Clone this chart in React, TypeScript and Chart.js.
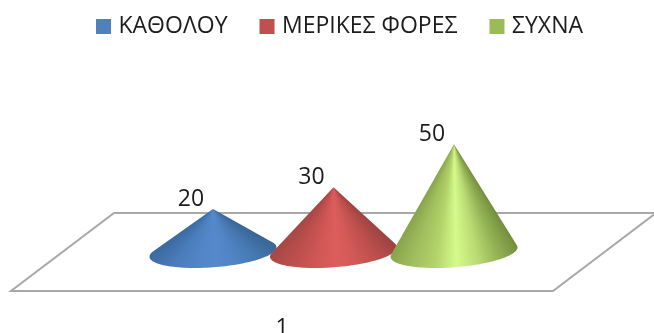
import React, { useEffect, useRef } from "react";
import { Chart, registerables } from "chart.js";

Chart.register(...registerables);

const categories = ["1"];
const seriesNames = ["ΚΑΘΟΛΟΥ", "ΜΕΡΙΚΕΣ ΦΟΡΕΣ", "ΣΥΧΝΑ"];
const kathólou = [20];
const merikes = [30];
const sychna = [50];
const seriesColors = ["#4f81bd", "#c0504d", "#9bbb59"];
// Shading across each cone, from its right silhouette round to its left one.
const coneShades = [
  ["#3a6594", "#4678b2", "#5084c4", "#5589cd", "#5285c6", "#4a7cba", "#3b699f"],
  ["#9b4341", "#bb4e4c", "#d05856", "#dd5e5c", "#d05755", "#bd4f4d", "#a44846"],
  ["#748d3e", "#93b254", "#bbdb73", "#d6fa8b", "#b2d26a", "#a0be5d", "#88a34c"],
];

const FONT = '"Open Sans", sans-serif';
const INK = "#1c1c1c";
const FLOOR = "#a8a8a8";
// The floor recedes by this vector; the cones stand half way along it.
const DEPTH_X = 103;
const DEPTH_Y = -78;
// Elliptical foot of a cone, relative to half the bar width and a fixed depth radius.
const FOOT_SKEW = 0.29;
const FOOT_HALF_HEIGHT = 16;
const LABEL_DX = -22;
const LABEL_DY = -9.5;
const LEGEND_SHIFT_X = 14.5;
const LEGEND_SHIFT_Y = -21;
const LEFT_MARGIN = 11;
const RIGHT_MARGIN = 101;

function drawCone(ctx: CanvasRenderingContext2D, cx: number, baseY: number, apexY: number, halfW: number, shades: string[]) {
  const B = -FOOT_SKEW * halfW;
  const A = Math.sqrt(halfW * halfW - B * B);
  const D = FOOT_HALF_HEIGHT;
  const at = (t: number) => [cx + A * Math.cos(t) + B * Math.sin(t), baseY + D * Math.sin(t)];
  // Tangent points of the apex on the foot, solved on the unit circle.
  const v = (apexY - baseY) / D;
  const u = -(B * v) / A;
  const phi = Math.atan2(v, u);
  const spread = Math.acos(1 / Math.hypot(u, v));
  const tRight = phi + spread;
  const tLeft = phi - spread + 2 * Math.PI;

  ctx.beginPath();
  ctx.moveTo(cx, apexY);
  const steps = 80;
  for (let i = 0; i <= steps; i++) {
    const [x, y] = at(tRight + ((tLeft - tRight) * i) / steps);
    ctx.lineTo(x, y);
  }
  ctx.closePath();

  const [rx, ry] = at(tRight);
  const [lx, ly] = at(tLeft);
  const turn = (x: number, y: number) => {
    const a = Math.atan2(y - apexY, x - cx) + Math.PI / 2;
    return ((a % (2 * Math.PI)) + 2 * Math.PI) % (2 * Math.PI) / (2 * Math.PI);
  };
  const start = turn(rx, ry);
  const end = turn(lx, ly);
  const gradient = ctx.createConicGradient(-Math.PI / 2, cx, apexY);
  shades.forEach((c, i) => gradient.addColorStop(start + ((end - start) * i) / (shades.length - 1), c));
  ctx.fillStyle = gradient;
  ctx.fill();
}

const conePlugin = {
  id: "cones",
  afterLayout(chart: any) {
    chart.legend.left += LEGEND_SHIFT_X;
    chart.legend.right += LEGEND_SHIFT_X;
    chart.legend.top += LEGEND_SHIFT_Y;
    chart.legend.bottom += LEGEND_SHIFT_Y;
  },
  beforeDatasetsDraw(chart: any) {
    const { ctx, chartArea } = chart;
    const { left, right, bottom } = chartArea;
    ctx.save();
    ctx.strokeStyle = FLOOR;
    ctx.lineWidth = 2;
    ctx.lineJoin = "miter";
    ctx.beginPath();
    ctx.moveTo(left, bottom);
    ctx.lineTo(right, bottom);
    ctx.lineTo(right + DEPTH_X, bottom + DEPTH_Y);
    ctx.lineTo(left + DEPTH_X, bottom + DEPTH_Y);
    ctx.closePath();
    ctx.stroke();

    chart.data.datasets.forEach((_: any, i: number) => {
      const bar = chart.getDatasetMeta(i).data[0];
      const cx = bar.x + DEPTH_X / 2;
      drawCone(ctx, cx, bar.base + DEPTH_Y / 2, bar.y + DEPTH_Y / 2, bar.width / 2, coneShades[i]);
    });

    ctx.fillStyle = INK;
    ctx.font = `23px ${FONT}`;
    ctx.textAlign = "center";
    ctx.textBaseline = "middle";
    chart.data.datasets.forEach((ds: any, i: number) => {
      const bar = chart.getDatasetMeta(i).data[0];
      ctx.fillText(String(ds.data[0]), bar.x + DEPTH_X / 2 + LABEL_DX, bar.y + DEPTH_Y / 2 + LABEL_DY);
    });
    ctx.restore();
    return false;
  },
};

const hiddenAxis = (position: string, width: number) => ({
  position,
  min: 0,
  max: 103,
  grid: { display: false },
  border: { display: false },
  ticks: { display: false },
  afterFit: (s: any) => {
    s.width = width;
  },
});

export default function App() {
  const ref = useRef<HTMLCanvasElement>(null);
  useEffect(() => {
    document.body.style.margin = "0";
    const values = [kathólou, merikes, sychna];
    const chart = new Chart(ref.current!, {
      type: "bar",
      data: {
        labels: categories,
        datasets: seriesNames.map((label, i) => ({
          label,
          data: values[i],
          backgroundColor: seriesColors[i],
          borderColor: seriesColors[i],
          borderWidth: 8,
          categoryPercentage: 0.667,
          barPercentage: 1.054,
        })),
      },
      options: {
        responsive: false,
        animation: false,
        plugins: {
          tooltip: { enabled: false },
          legend: {
            position: "top",
            labels: {
              boxWidth: 7,
              boxHeight: 7,
              padding: 36,
              color: INK,
              font: { family: FONT, size: 23 },
            },
          },
        },
        scales: {
          x: {
            grid: { display: false },
            border: { display: false },
            afterFit: (s: any) => {
              s.height = 42;
            },
            ticks: { color: INK, padding: 16, font: { family: FONT, size: 23 } },
          },
          y: hiddenAxis("left", LEFT_MARGIN),
          yRight: hiddenAxis("right", RIGHT_MARGIN),
        },
      },
      plugins: [conePlugin],
    } as any);
    return () => chart.destroy();
  }, []);
  return <canvas ref={ref} width={654} height={333} style={{ display: "block" }} />;
}
